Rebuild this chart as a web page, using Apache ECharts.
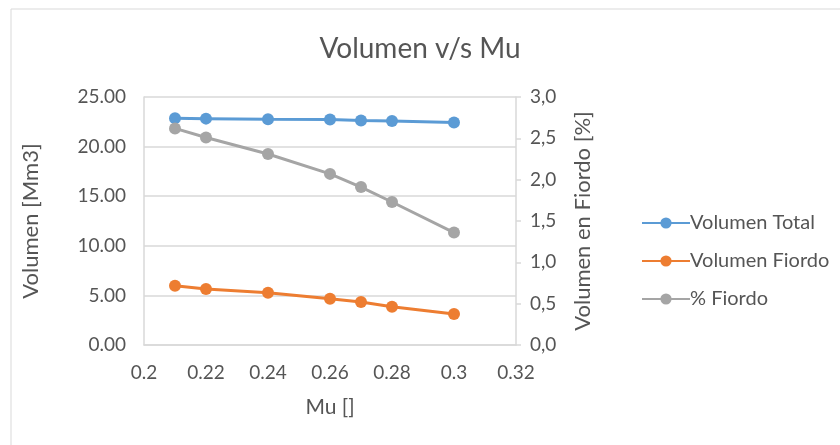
<!DOCTYPE html>
<html>
<head>
<meta charset="utf-8">
<script src="https://cdn.jsdelivr.net/npm/echarts@6/dist/echarts.min.js"></script>
<style>
  html, body { margin: 0; padding: 0; background: #fff; }
  #chart { width: 840px; height: 445px; }
</style>
</head>
<body>
<div id="chart"></div>
<script>
// Friction coefficient Mu (x) and resulting volumes
const mu = [0.21, 0.22, 0.24, 0.26, 0.27, 0.28, 0.30];
const volumenTotal = [22.85, 22.82, 22.75, 22.72, 22.63, 22.58, 22.43];
const volumenFiordo = [5.98, 5.65, 5.27, 4.67, 4.33, 3.86, 3.13];
const pctFiordo = [2.62, 2.51, 2.31, 2.07, 1.91, 1.73, 1.36];

const seriesNames = ['Volumen Total', 'Volumen Fiordo', '% Fiordo'];
const colors = ['#5B9BD5', '#ED7D31', '#A5A5A5'];

const FONT = 'Lato, "Open Sans", sans-serif';
const TEXT = '#555555';
const LINE = '#D9D9D9';

function pairs(xs, ys) { return xs.map((x, i) => [x, ys[i]]); }

function lineSeries(name, data, color, yAxisIndex) {
  return {
    name, type: 'line', yAxisIndex,
    data: pairs(mu, data),
    symbol: 'circle', symbolSize: 12,
    lineStyle: { color, width: 3 },
    itemStyle: { color },
    z: yAxisIndex === 1 ? 3 : 2
  };
}

const chart = echarts.init(document.getElementById('chart'), null, { renderer: 'canvas' });
chart.setOption({
  animation: false,
  backgroundColor: '#fff',
  graphic: [{
    type: 'rect', shape: { x: 11, y: 9, width: 840, height: 450 },
    style: { fill: 'none', stroke: '#D9D9D9', lineWidth: 1 }, silent: true, z: -10
  }],
  title: {
    text: 'Volumen v/s Mu', left: 'center', top: 30,
    textStyle: { fontFamily: FONT, fontSize: 28, fontWeight: 'normal', color: TEXT }
  },
  legend: {
    orient: 'vertical', left: 636, top: 208,
    itemWidth: 48, itemHeight: 14, itemGap: 18,
    textStyle: { fontFamily: FONT, fontSize: 20, color: TEXT, padding: [0, 0, 0, -5] },
    data: seriesNames
  },
  grid: { left: 144, right: 324, top: 97, bottom: 100, containLabel: false },
  xAxis: {
    type: 'value', min: 0.2, max: 0.32, interval: 0.02,
    name: 'Mu []', nameLocation: 'middle', nameGap: 52,
    nameTextStyle: { fontFamily: FONT, fontSize: 21, color: TEXT },
    axisLine: { show: true, lineStyle: { color: LINE, width: 1.5 } },
    axisTick: { show: false },
    splitLine: { show: false },
    axisLabel: {
      fontFamily: FONT, fontSize: 19, color: TEXT, margin: 18,
      formatter: v => String(+v.toFixed(2))
    }
  },
  yAxis: [{
    type: 'value', min: 0, max: 25, interval: 5, position: 'left',
    name: 'Volumen [Mm3]', nameLocation: 'middle', nameGap: 102, nameRotate: 90,
    nameTextStyle: { fontFamily: FONT, fontSize: 22, color: TEXT },
    axisLine: { show: true, lineStyle: { color: LINE, width: 1.5 } },
    axisTick: { show: false },
    splitLine: { show: true, lineStyle: { color: LINE, width: 1.5 } },
    axisLabel: {
      fontFamily: FONT, fontSize: 19, color: TEXT, margin: 18,
      formatter: v => v.toFixed(2)
    }
  }, {
    type: 'value', min: 0, max: 3, interval: 0.5, position: 'right',
    name: 'Volumen en Fiordo [%]', nameLocation: 'middle', nameGap: 56, nameRotate: 90,
    nameTextStyle: { fontFamily: FONT, fontSize: 22, color: TEXT },
    axisLine: { show: true, lineStyle: { color: LINE, width: 1.5 } },
    axisTick: { show: true, length: 5, inside: false, lineStyle: { color: LINE, width: 1.5 } },
    splitLine: { show: false },
    axisLabel: {
      fontFamily: FONT, fontSize: 19, color: TEXT, margin: 14,
      formatter: v => v.toFixed(1).replace('.', ',')
    }
  }],
  series: [
    lineSeries(seriesNames[0], volumenTotal, colors[0], 0),
    lineSeries(seriesNames[1], volumenFiordo, colors[1], 0),
    lineSeries(seriesNames[2], pctFiordo, colors[2], 1)
  ]
});
</script>
</body>
</html>
